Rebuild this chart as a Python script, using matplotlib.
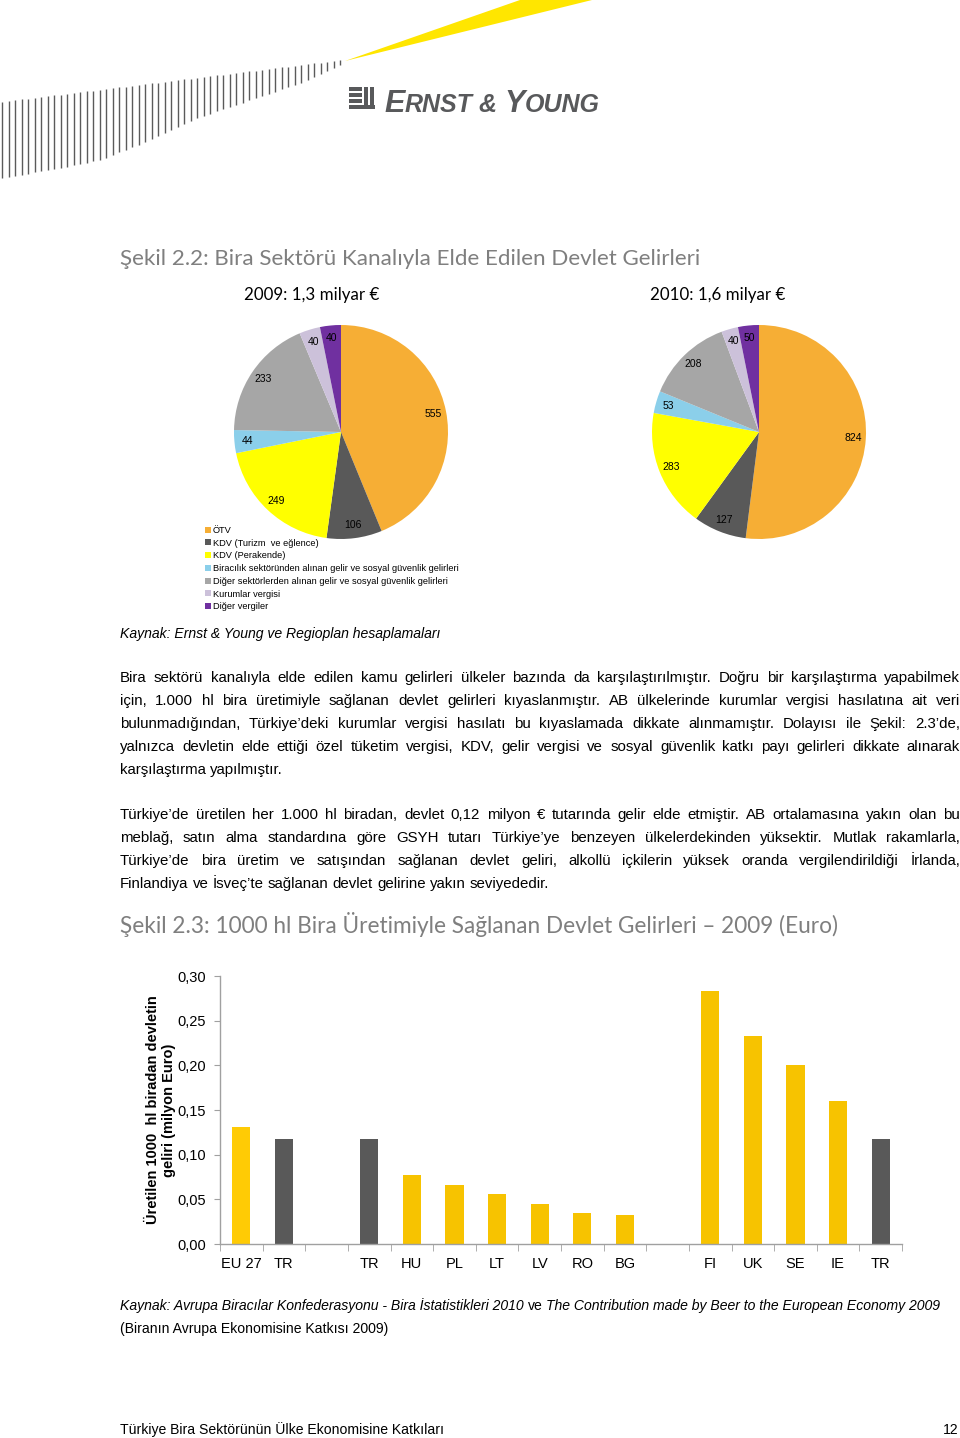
import numpy as np
import matplotlib
matplotlib.use("Agg")
import matplotlib.pyplot as plt
from matplotlib.patches import Patch, Polygon, Rectangle
from matplotlib.ticker import FuncFormatter

# ---- data ----
pie_cats = ["ÖTV", "KDV (Turizm  ve eğlence)", "KDV (Perakende)",
            "Biracılık sektöründen alınan gelir ve sosyal güvenlik gelirleri",
            "Diğer sektörlerden alınan gelir ve sosyal güvenlik gelirleri",
            "Kurumlar vergisi", "Diğer vergiler"]
pie_colors = ["#F6AE35", "#595959", "#FFFF00", "#8BCFEA", "#A6A6A6", "#CCC1DA", "#7030A0"]
vals_2009 = [555, 106, 249, 44, 233, 40, 40]
vals_2010 = [824, 127, 283, 53, 208, 40, 50]

bar_labels = ["EU 27", "TR", "", "TR", "HU", "PL", "LT", "LV", "RO", "BG", "",
              "FI", "UK", "SE", "IE", "TR"]
bar_vals = [0.131, 0.117, None, 0.117, 0.077, 0.066, 0.056, 0.045, 0.035, 0.032, None,
            0.283, 0.233, 0.200, 0.160, 0.117]

para1 = ["Bira sektörü kanalıyla elde edilen kamu gelirleri ülkeler bazında da karşılaştırılmıştır. Doğru bir karşılaştırma yapabilmek",
         "için, 1.000 hl bira üretimiyle sağlanan devlet gelirleri kıyaslanmıştır. AB ülkelerinde kurumlar vergisi hasılatına ait veri",
         "bulunmadığından, Türkiye’deki kurumlar vergisi hasılatı bu kıyaslamada dikkate alınmamıştır. Dolayısı ile Şekil: 2.3’de,",
         "yalnızca devletin elde ettiği özel tüketim vergisi, KDV, gelir vergisi ve sosyal güvenlik katkı payı gelirleri dikkate alınarak",
         "karşılaştırma yapılmıştır."]
para2 = ["Türkiye’de üretilen her 1.000 hl biradan, devlet 0,12 milyon € tutarında gelir elde etmiştir. AB ortalamasına yakın olan bu",
         "meblağ, satın alma standardına göre GSYH tutarı Türkiye’ye benzeyen ülkelerdekinden yüksektir. Mutlak rakamlarla,",
         "Türkiye’de bira üretim ve satışından sağlanan devlet geliri, alkollü içkilerin yüksek oranda vergilendirildiği İrlanda,",
         "Finlandiya ve İsveç’te sağlanan devlet gelirine yakın seviyededir."]

W, H = 960, 1438
fig = plt.figure(figsize=(9.6, 14.38), dpi=100)
renderer = fig.canvas.get_renderer()

def fx(x):
    return x / W

def fy(y):
    return 1 - y / H

BODY = ["Liberation Sans", "DejaVu Sans"]
NARROW = ["Liberation Sans Narrow", "Liberation Sans", "DejaVu Sans"]
TITLE = ["Lato", "DejaVu Sans"]

def width(t):
    return t.get_window_extent(renderer).width

def space_w(**kw):
    a = fig.text(0, 0, "a a", **kw)
    b = fig.text(0, 0, "aa", **kw)
    s = width(a) - width(b)
    a.remove()
    b.remove()
    return s

def line_text(line, x0, x1, y, justify=True, **kw):
    words = line.split()
    texts = [fig.text(0, fy(y), w, va="baseline", **kw) for w in words]
    ws = [width(t) for t in texts]
    if justify and len(words) > 1:
        gap = (x1 - x0 - sum(ws)) / (len(words) - 1)
    else:
        gap = space_w(**kw)
    x = x0
    for t, w in zip(texts, ws):
        t.set_x(fx(x))
        x += w + gap

def runs(items, x, y, **kw):
    # pieces of text with different styles, one after the other
    for s, style in items:
        t = fig.text(fx(x), fy(y), s, va="baseline", **kw, **style)
        x += width(t)
    return x

# ---- header / logo ----
deco = fig.add_axes([0, 0, 1, 1], zorder=-1)
deco.set_xlim(0, W)
deco.set_ylim(H, 0)
deco.axis("off")
sx = np.arange(2, 346, 6.5)
top = 102 - 0.123 * sx
bot = np.interp(sx, [0, 50, 100, 150, 200, 250, 300, 346], [178, 170, 160, 140, 117, 100, 83, 62])
deco.vlines(sx, top, bot, color="#5A5A5A", lw=1.0)
deco.add_patch(Polygon([(345, 61), (520, 0), (592, 0)], closed=True, color="#FFE600", lw=0))
for yy in [87, 93, 99]:
    deco.add_patch(Rectangle((349, yy), 13, 4, color="#58595B", lw=0))
deco.add_patch(Rectangle((349, 105), 26, 4, color="#58595B", lw=0))
deco.add_patch(Rectangle((364, 87), 4, 22, color="#58595B", lw=0))
deco.add_patch(Rectangle((370, 87), 4, 22, color="#58595B", lw=0))

logo = dict(family=NARROW, color="#58595B", style="italic", fontweight="bold")
runs([("E", dict(fontsize=22)), ("RNST", dict(fontsize=18)),
      (" & ", dict(fontsize=18)), ("Y", dict(fontsize=22)), ("OUNG", dict(fontsize=18))],
     384, 112, **logo)

# ---- figure 2.2 ----
fig.text(fx(120), fy(265), "Şekil 2.2: Bira Sektörü Kanalıyla Elde Edilen Devlet Gelirleri",
         family=TITLE, fontsize=16.1, color="#7F7F7F", va="baseline")
fig.text(fx(312), fy(300), "2009: 1,3 milyar €", family=TITLE, fontsize=12.2,
         color="black", ha="center", va="baseline")
fig.text(fx(718), fy(300), "2010: 1,6 milyar €", family=TITLE, fontsize=12.2,
         color="black", ha="center", va="baseline")

def draw_pie(cx, cy, r, vals):
    ax = fig.add_axes([fx(cx - r), fy(cy + r), 2 * r / W, 2 * r / H])
    wedges, texts = ax.pie(vals, colors=pie_colors, startangle=90, counterclock=False,
                           labels=[str(v) for v in vals], labeldistance=0.88,
                           wedgeprops=dict(linewidth=0),
                           textprops=dict(fontsize=7.5, family=BODY, color="black"))
    for t in texts:
        t.set_ha("center")
        t.set_va("center")
    ax.set_xlim(-1, 1)
    ax.set_ylim(-1, 1)
    return ax

ax1 = draw_pie(341, 432, 107, vals_2009)
ax2 = draw_pie(759, 432, 107, vals_2010)

handles = [Patch(facecolor=c, edgecolor="none") for c in pie_colors]
fig.legend(handles, pie_cats, loc="upper left", bbox_to_anchor=(fx(205), fy(526)),
           frameon=False, borderpad=0, borderaxespad=0, handlelength=0.6, handleheight=0.6,
           handletextpad=0.25, labelspacing=0.4, prop=dict(family=BODY, size=6.7))

fig.text(fx(120), fy(638), "Kaynak: Ernst & Young ve Regioplan hesaplamaları",
         family=BODY, style="italic", fontsize=10.1, va="baseline")

# ---- body text ----
body = dict(family=BODY, fontsize=10.8, color="black")
for i, line in enumerate(para1):
    line_text(line, 120, 960, 682 + 23 * i, justify=i < len(para1) - 1, **body)
for i, line in enumerate(para2):
    line_text(line, 120, 960, 819 + 23 * i, justify=i < len(para2) - 1, **body)

# ---- figure 2.3 ----
fig.text(fx(120), fy(933), "Şekil 2.3: 1000 hl Bira Üretimiyle Sağlanan Devlet Gelirleri – 2009 (Euro)",
         family=TITLE, fontsize=16.3, color="#7F7F7F", va="baseline")

ax3 = fig.add_axes([fx(220), fy(1244), (902 - 220) / W, (1244 - 976) / H])
pos = [i for i, l in enumerate(bar_labels) if l]
heights = [bar_vals[i] for i in pos]
cols = ["#595959" if bar_labels[i] == "TR" else "#F7C300" for i in pos]
cols[0] = "#FFCB05"
ax3.bar(pos, heights, width=0.43, color=cols, linewidth=0, zorder=2)
ax3.set_xlim(-0.5, len(bar_labels) - 0.5)
ax3.set_ylim(0, 0.30)
ax3.set_yticks(np.arange(0, 0.301, 0.05))
ax3.yaxis.set_major_formatter(FuncFormatter(lambda v, p: f"{v:.2f}".replace(".", ",")))
ax3.set_xticks(pos)
ax3.set_xticklabels([bar_labels[i] for i in pos])
ax3.set_xticks(np.arange(-0.5, len(bar_labels)), minor=True)
for s in ["top", "right"]:
    ax3.spines[s].set_visible(False)
for s in ["left", "bottom"]:
    ax3.spines[s].set_color("#A0A0A0")
    ax3.spines[s].set_linewidth(1)
ax3.tick_params(axis="y", length=4, color="#A0A0A0", pad=6, labelsize=10.5)
ax3.tick_params(axis="x", which="major", length=0, pad=9, labelsize=10.5)
ax3.tick_params(axis="x", which="minor", length=5, color="#A0A0A0")
for t in ax3.get_xticklabels() + ax3.get_yticklabels():
    t.set_family(BODY)
fig.text(fx(161), fy(1110), "Üretilen 1000  hl biradan devletin\ngeliri (milyon Euro)",
         family=BODY, fontsize=10.5, fontweight="bold", rotation=90,
         ha="center", va="center", multialignment="center")

# ---- footer ----
foot = dict(family=NARROW, fontsize=10.05, color="black")
sp = space_w(**foot)
x = runs([("Kaynak: Avrupa Biracılar Konfederasyonu - Bira İstatistikleri 2010", dict(style="italic"))],
         120, 1310, **foot)
x = runs([("ve", {})], x + sp, 1310, **foot)
runs([("The Contribution made by Beer to the European Economy 2009", dict(style="italic"))],
     x + sp, 1310, **foot)
fig.text(fx(120), fy(1333), "(Biranın Avrupa Ekonomisine Katkısı 2009)", va="baseline", **foot)
fig.text(fx(120), fy(1434), "Türkiye Bira Sektörünün Ülke Ekonomisine Katkıları", va="baseline", **foot)
fig.text(fx(958), fy(1434), "12", ha="right", va="baseline", **foot)

fig.savefig("out.png", dpi=100)
